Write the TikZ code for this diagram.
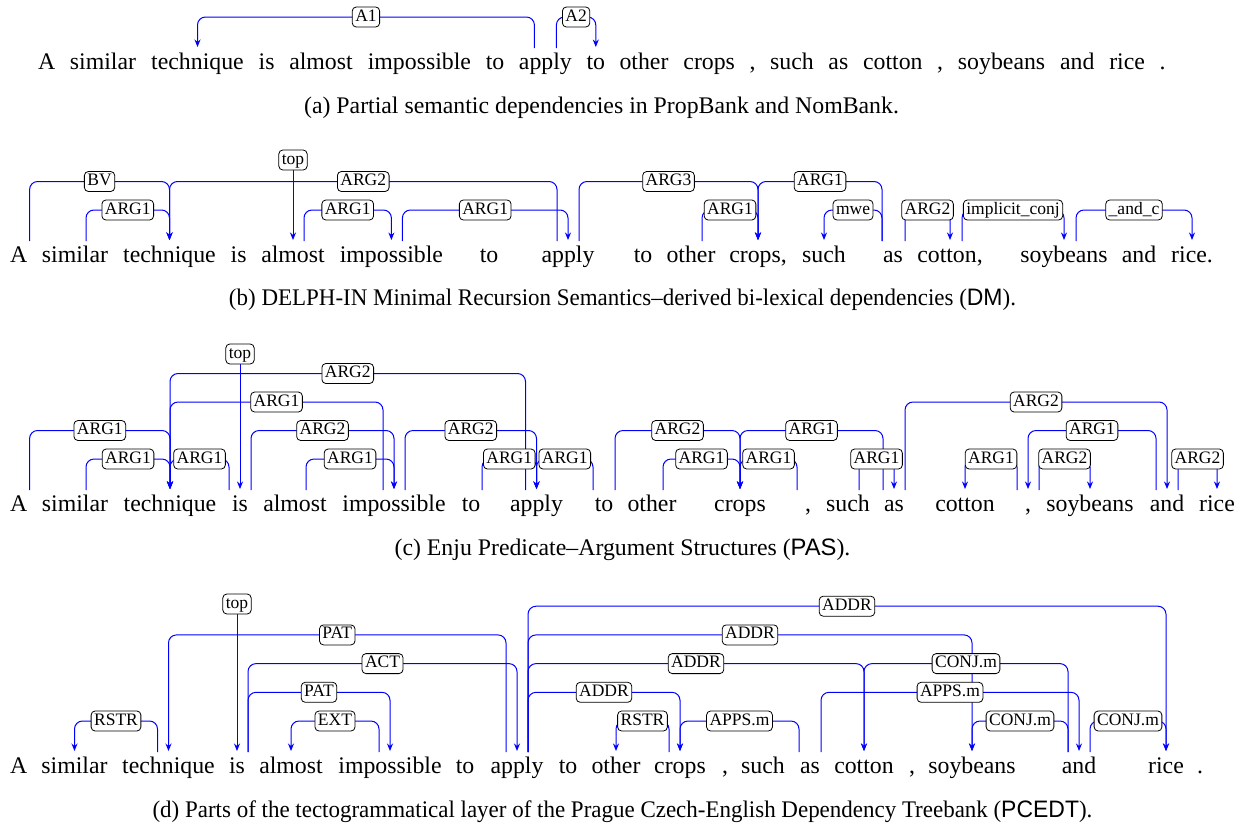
\documentclass[tikz,border=0pt]{standalone}
\usepackage{fontspec}
\setmainfont{Liberation Serif}
\setsansfont{Liberation Sans}
\usetikzlibrary{arrows.meta,calc}
\pgfdeclarelayer{bg}
\pgfsetlayers{bg,main}
\newcommand\wordfont{\fontsize{23.8}{28}\selectfont}
\newcommand\labfont{\fontsize{17.5}{20}\selectfont}
% #1 source word, #2 target word, #3 x offset at source, #4 level y, #5 label, #6 label name
\newcommand\deparc[6]{%
  \path ($(#1.base)+(#3,-21)$) coordinate (s) ($(#2.base)+(0,-22)$) coordinate (t);
  \begin{pgfonlayer}{bg}\draw[arc] (s) -- (s |- 0,#4) -- (t |- 0,#4) -- (t);\end{pgfonlayer}
  \node[lab] (#6) at ($(s |- 0,#4)!0.5!(t |- 0,#4)$) {#5};}
\newcommand\toparc[3]{% #1 label name, #2 word, #3 label y
  \path ($(#2.base)+(0,-22)$) coordinate (t);
  \node[lab] (#1) at (t |- 0,#3) {top};
  \begin{pgfonlayer}{bg}\draw[arc] (#1.south) -- (t);\end{pgfonlayer}}
\begin{document}
\begin{tikzpicture}[x=1pt,y=-1pt,
  w/.style={inner sep=0pt, anchor=base, font=\wordfont},
  captxt/.style={inner sep=0pt, anchor=base, font=\wordfont},
  lab/.style={draw=black, fill=white, rounded corners=4pt, inner xsep=3pt, inner ysep=2pt,
    font=\labfont, text height=12pt, text depth=4pt, line width=0.8pt},
  arc/.style={draw=blue, line width=1pt, rounded corners=8pt, -{Stealth[length=7.5pt,width=6pt]}}]
\useasboundingbox (0,0) rectangle (1247,825);

% ---------------- (a)
\node[w] (a1) at (46.7,69) {A};
\node[w] (a2) at (103,69) {similar};
\node[w] (a3) at (197.5,69) {technique};
\node[w] (a4) at (266.6,69) {is};
\node[w] (a5) at (321,69) {almost};
\node[w] (a6) at (419.4,69) {impossible};
\node[w] (a7) at (495,69) {to};
\node[w] (a8) at (545.4,69) {apply};
\node[w] (a9) at (595.8,69) {to};
\node[w] (a10) at (644,69) {other};
\node[w] (a11) at (709.2,69) {crops};
\node[w] (a12) at (752.6,69) {,};
\node[w] (a13) at (792,69) {such};
\node[w] (a14) at (838.4,69) {as};
\node[w] (a15) at (892.8,69) {cotton};
\node[w] (a16) at (940.2,69) {,};
\node[w] (a17) at (1001.6,69) {soybeans};
\node[w] (a18) at (1077.3,69) {and};
\node[w] (a19) at (1127.1,69) {rice};
\node[w] (a20) at (1162.5,69) {.};
\deparc{a8}{a3}{-11}{17}{A1}{la1}
\deparc{a8}{a9}{11}{17}{A2}{la2}
\node[captxt] (capa) at (601.5,113) {(a) Partial semantic dependencies in PropBank and NomBank.};

% ---------------- (b)
\node[w] (b1) at (18.6,262) {A};
\node[w] (b2) at (75,262) {similar};
\node[w] (b3) at (169.5,262) {technique};
\node[w] (b4) at (238.6,262) {is};
\node[w] (b5) at (293,262) {almost};
\node[w] (b6) at (391.4,262) {impossible};
\node[w] (b7) at (489,262) {to};
\node[w] (b8) at (568,262) {apply};
\node[w] (b9) at (643,262) {to};
\node[w] (b10) at (691,262) {other};
\node[w] (b11) at (758,262) {crops,};
\node[w] (b12) at (824,262) {such};
\node[w] (b13) at (893,262) {as};
\node[w] (b14) at (950,262) {cotton,};
\node[w] (b15) at (1064,262) {soybeans};
\node[w] (b16) at (1139,262) {and};
\node[w] (b17) at (1192,262) {rice.};
\deparc{b1}{b3}{11}{181.5}{BV}{lb1}
\deparc{b2}{b3}{11}{210}{ARG1}{lb2}
\deparc{b8}{b3}{-11}{181.5}{ARG2}{lb3}
\deparc{b5}{b6}{11}{210}{ARG1}{lb4}
\deparc{b6}{b8}{11}{210}{ARG1}{lb5}
\deparc{b8}{b11}{11}{181.5}{ARG3}{lb6}
\deparc{b10}{b11}{11}{210}{ARG1}{lb7}
\deparc{b13}{b11}{-11}{181.5}{ARG1}{lb8}
\deparc{b13}{b12}{-11}{210}{mwe}{lb9}
\deparc{b13}{b14}{12}{210}{ARG2}{lb10}
\deparc{b14}{b15}{12}{210}{implicit\_conj}{lb11}
\deparc{b15}{b17}{12}{210}{\_and\_c}{lb12}
\toparc{btop}{b5}{160}
\node[captxt] (capb) at (622.5,305) {\scalebox{0.965}[1]{(b) DELPH-IN Minimal Recursion Semantics–derived bi-lexical dependencies (\textsf{DM}).}};

% ---------------- (c)
\node[w] (c1) at (18.6,511) {A};
\node[w] (c2) at (75,511) {similar};
\node[w] (c3) at (170,511) {technique};
\node[w] (c4) at (240,511) {is};
\node[w] (c5) at (295,511) {almost};
\node[w] (c6) at (394,511) {impossible};
\node[w] (c7) at (471,511) {to};
\node[w] (c8) at (536.5,511) {apply};
\node[w] (c9) at (604,511) {to};
\node[w] (c10) at (652,511) {other};
\node[w] (c11) at (740,511) {crops};
\node[w] (c12) at (808,511) {,};
\node[w] (c13) at (848,511) {such};
\node[w] (c14) at (894,511) {as};
\node[w] (c15) at (965,511) {cotton};
\node[w] (c16) at (1028,511) {,};
\node[w] (c17) at (1090,511) {soybeans};
\node[w] (c18) at (1167,511) {and};
\node[w] (c19) at (1217,511) {rice};
\deparc{c2}{c3}{11}{459}{ARG1}{lc1}
\deparc{c4}{c3}{-11}{459}{ARG1}{lc2}
\deparc{c5}{c6}{11}{459}{ARG1}{lc3}
\deparc{c7}{c8}{11}{459}{ARG1}{lc4}
\deparc{c9}{c8}{-11}{459}{ARG1}{lc5}
\deparc{c10}{c11}{11}{459}{ARG1}{lc6}
\deparc{c12}{c11}{-11}{459}{ARG1}{lc7}
\deparc{c13}{c14}{11}{459}{ARG1}{lc8}
\deparc{c16}{c15}{-11}{459}{ARG1}{lc9}
\deparc{c16}{c17}{11}{459}{ARG2}{lc10}
\deparc{c18}{c19}{11}{459}{ARG2}{lc11}
\deparc{c1}{c3}{11}{430.5}{ARG1}{lc12}
\deparc{c4}{c6}{11}{430.5}{ARG2}{lc13}
\deparc{c6}{c8}{11}{430.5}{ARG2}{lc14}
\deparc{c9}{c11}{11}{430.5}{ARG2}{lc15}
\deparc{c14}{c11}{-11}{430.5}{ARG1}{lc16}
\deparc{c18}{c16}{-11}{430.5}{ARG1}{lc17}
\deparc{c6}{c3}{-11}{402}{ARG1}{lc18}
\deparc{c14}{c18}{11}{402}{ARG2}{lc19}
\deparc{c8}{c3}{-11}{373.5}{ARG2}{lc20}
\toparc{ctop}{c4}{354}
\node[captxt] (capc) at (622.5,555) {(c) Enju Predicate–Argument Structures (\textsf{PAS}).};

% ---------------- (d)
\node[w] (d1) at (18.6,773) {A};
\node[w] (d2) at (74.5,773) {similar};
\node[w] (d3) at (168.5,773) {technique};
\node[w] (d4) at (237,773) {is};
\node[w] (d5) at (291,773) {almost};
\node[w] (d6) at (390,773) {impossible};
\node[w] (d7) at (465,773) {to};
\node[w] (d8) at (517,773) {apply};
\node[w] (d9) at (568,773) {to};
\node[w] (d10) at (616,773) {other};
\node[w] (d11) at (680,773) {crops};
\node[w] (d12) at (725,773) {,};
\node[w] (d13) at (763,773) {such};
\node[w] (d14) at (810,773) {as};
\node[w] (d15) at (864,773) {cotton};
\node[w] (d16) at (912,773) {,};
\node[w] (d17) at (972,773) {soybeans};
\node[w] (d18) at (1079,773) {and};
\node[w] (d19) at (1166,773) {rice};
\node[w] (d20) at (1200,773) {.};
\deparc{d3}{d2}{-11}{721}{RSTR}{ld1}
\deparc{d6}{d5}{-11}{721}{EXT}{ld2}
\deparc{d4}{d6}{11}{692.3}{PAT}{ld3}
\deparc{d4}{d8}{11}{663.6}{ACT}{ld4}
\deparc{d8}{d3}{-11}{634.9}{PAT}{ld5}
\deparc{d8}{d19}{11}{606.2}{ADDR}{ld6}
\deparc{d8}{d17}{11}{634.9}{ADDR}{ld7}
\deparc{d8}{d15}{11}{663.6}{ADDR}{ld8}
\deparc{d8}{d11}{11}{692.3}{ADDR}{ld9}
\deparc{d11}{d10}{-11}{721}{RSTR}{ld10}
\deparc{d14}{d11}{-11}{721}{APPS.m}{ld11}
\deparc{d14}{d18}{11}{692.3}{APPS.m}{ld12}
\deparc{d18}{d15}{-11}{663.6}{CONJ.m}{ld13}
\deparc{d18}{d17}{-11}{721}{CONJ.m}{ld14}
\deparc{d18}{d19}{11}{721}{CONJ.m}{ld15}
\toparc{dtop}{d4}{604}
\node[captxt] (capd) at (622.5,817) {\scalebox{0.965}[1]{(d) Parts of the tectogrammatical layer of the Prague Czech-English Dependency Treebank (\textsf{PCEDT}).}};
\end{tikzpicture}
\end{document}
